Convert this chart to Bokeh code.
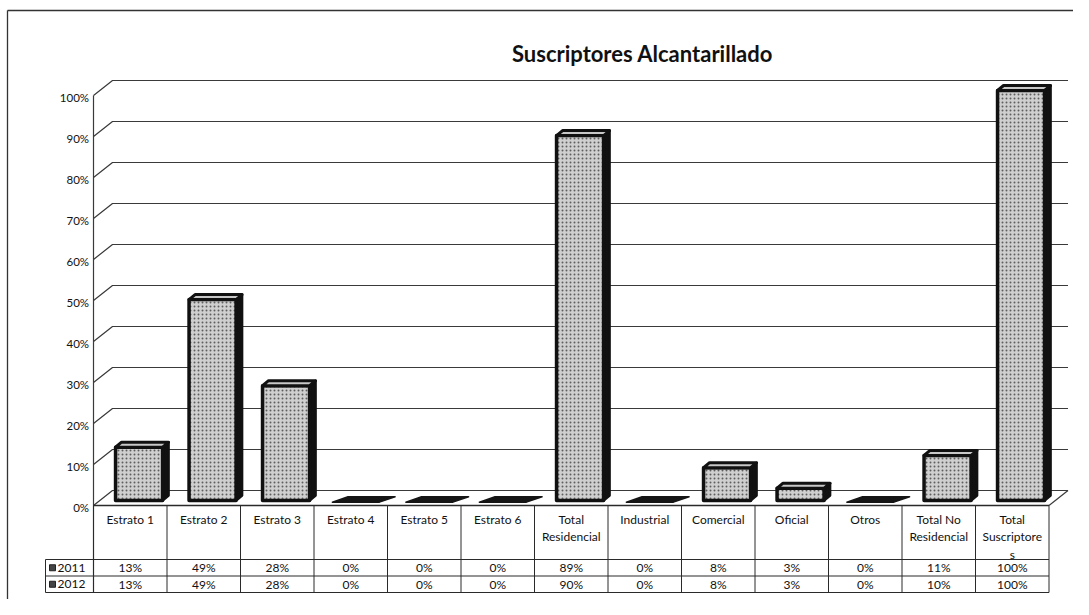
from bokeh.plotting import figure
from bokeh.models import Range1d, Label
from bokeh.core.properties import value
from bokeh.embed import file_html
from bokeh.resources import INLINE

# ---------------- data ----------------
categories = ["Estrato 1", "Estrato 2", "Estrato 3", "Estrato 4", "Estrato 5", "Estrato 6",
              "Total\nResidencial", "Industrial", "Comercial", "Oficial", "Otros",
              "Total No\nResidencial", "Total\nSuscriptore\ns"]
series_names = ["2011", "2012"]
v2011 = [13, 49, 28, 0, 0, 0, 89, 0, 8, 3, 0, 11, 100]
v2012 = [13, 49, 28, 0, 0, 0, 90, 0, 8, 3, 0, 10, 100]
y_ticks = [0, 10, 20, 30, 40, 50, 60, 70, 80, 90, 100]
title_text = "Suscriptores Alcantarillado"

# ---------------- geometry ----------------
W, H = 1073, 599
PX = 73.5     # pixels per category column
PY = 4.1      # pixels per percent point
X0 = -93 / PX
Y1 = 505 / PY
DX = 19 / PX  # 3-D depth offset (x)
DY = 15 / PY  # 3-D depth offset (y)
n = len(categories)
FONT = "Lato"

p = figure(width=W, height=H, x_range=Range1d(X0, X0 + W / PX),
           y_range=Range1d(Y1 - H / PY, Y1), x_axis_type=None, y_axis_type=None,
           output_backend="svg", toolbar_location=None, min_border=0,
           outline_line_color=None, background_fill_color="white")

ybot = Y1 - H / PY
xleft = X0 + 7 / PX
ytop = Y1 - 10 / PY

# outer border (top and left visible)
p.line([xleft, X0 + W / PX], [ytop, ytop], line_color="#333333", line_width=1.3)
p.line([xleft, xleft], [ybot, ytop], line_color="#333333", line_width=1.3)

# gridlines on walls (front diagonal + back horizontal)
p.multi_line(xs=[[0, DX, n + DX] for t in y_ticks],
             ys=[[t, t + DY, t + DY] for t in y_ticks],
             line_color="#3a3a3a", line_width=1.2)
# left wall vertical edge
R3 = -87 / PY
p.line([0, 0], [R3, y_ticks[-1]], line_color="#3a3a3a", line_width=1.2)
# floor right diagonal
p.line([n, n + DX], [0, DY], line_color="#3a3a3a", line_width=1.2)

# y tick labels
p.text(x=[-0.06] * len(y_ticks), y=[t - 0.5 for t in y_ticks],
       text=[f"{t}%" for t in y_ticks], text_align="right", text_baseline="middle",
       text_font=value(FONT), text_font_size="11.5px", text_color="#111111")

# ---------------- bars (pseudo 3-D) ----------------
OFF, HW, YB = 0.12, 0.32, 1.22
DDX, DDY = 6 / PX, 5 / PY
cx = [i + 0.5 + OFF for i in range(n)]
lefts = [c - HW for c in cx]
rights = [c + HW for c in cx]
tops = [v + YB for v in v2011]

nz = [i for i in range(n) if v2011[i] > 0]
zz = [i for i in range(n) if v2011[i] == 0]

# side faces (dark)
p.patches(xs=[[rights[i], rights[i] + DDX, rights[i] + DDX, rights[i]] for i in nz],
          ys=[[YB, YB + DDY, tops[i] + DDY, tops[i]] for i in nz],
          fill_color="#111111", line_color="#111111", line_width=2.5, line_join="round")
# front faces
p.quad(left=[lefts[i] for i in nz], right=[rights[i] for i in nz],
       bottom=[YB] * len(nz), top=[tops[i] for i in nz],
       fill_color="#cfcfcf", hatch_pattern="dot", hatch_color="#5e5e5e",
       hatch_scale=4, hatch_weight=1.3,
       line_color="#111111", line_width=3.5, line_join="round")
# top faces
p.patches(xs=[[lefts[i], lefts[i] + DDX, rights[i] + DDX, rights[i]] for i in nz],
          ys=[[tops[i], tops[i] + DDY, tops[i] + DDY, tops[i]] for i in nz],
          fill_color="#c8c8c8", line_color="#111111", line_width=3, line_join="round")
# zero-height bars: flat dark slabs
p.patches(xs=[[lefts[i] - 0.05, lefts[i] + 2 * DDX, rights[i] + 2 * DDX, rights[i] - 0.05] for i in zz],
          ys=[[YB - 0.4, YB + 0.9, YB + 0.9, YB - 0.4] for i in zz],
          fill_color="#151515", line_color="#151515", line_width=1.5, line_join="round")

# ---------------- data table ----------------
R1, R2 = -54 / PY, -70.5 / PY
tcol = "#2a2a2a"
# floor front edge / table top
p.line([0, n], [0, 0], line_color=tcol, line_width=1.3)
# vertical column lines
p.multi_line(xs=[[i, i] for i in range(n + 1)], ys=[[0, R3] for i in range(n + 1)],
             line_color=tcol, line_width=1)
# legend column border
LX = -48 / PX
p.line([LX, LX], [R1, R3], line_color=tcol, line_width=1)
# horizontal row lines
p.multi_line(xs=[[LX, n], [LX, n], [LX, n]], ys=[[R1, R1], [R2, R2], [R3, R3]],
             line_color=tcol, line_width=1.2)

# header labels
p.text(x=[i + 0.5 for i in range(n)], y=[-1.6] * n, text=categories,
       text_align="center", text_baseline="top", text_line_height=1.15,
       text_font=value(FONT), text_font_size="12px", text_color="#111111")

# values
rows = [(v2011, (R1 + R2) / 2), (v2012, (R2 + R3) / 2)]
for vals, yy in rows:
    p.text(x=[i + 0.5 for i in range(n)], y=[yy] * n, text=[f"{v}%" for v in vals],
           text_align="center", text_baseline="middle",
           text_font=value(FONT), text_font_size="12px", text_color="#111111")

# legend cells
ry = [(R1 + R2) / 2, (R2 + R3) / 2]
p.scatter(x=[LX + 7 / PX] * 2, y=ry, marker="square", size=6,
          fill_color="#444444", line_color="#222222")
p.text(x=[LX + 12 / PX] * 2, y=ry, text=series_names, text_align="left",
       text_baseline="middle", text_font=value(FONT), text_font_size="12px",
       text_color="#111111")

# title
p.add_layout(Label(x=(n / 2) + 0.97, y=110.2, text=title_text, text_align="center",
                   text_baseline="middle", text_font=FONT, text_font_style="bold",
                   text_font_size="22px", text_color="#111111"))

open("out.html", "w").write(file_html(p, INLINE))
